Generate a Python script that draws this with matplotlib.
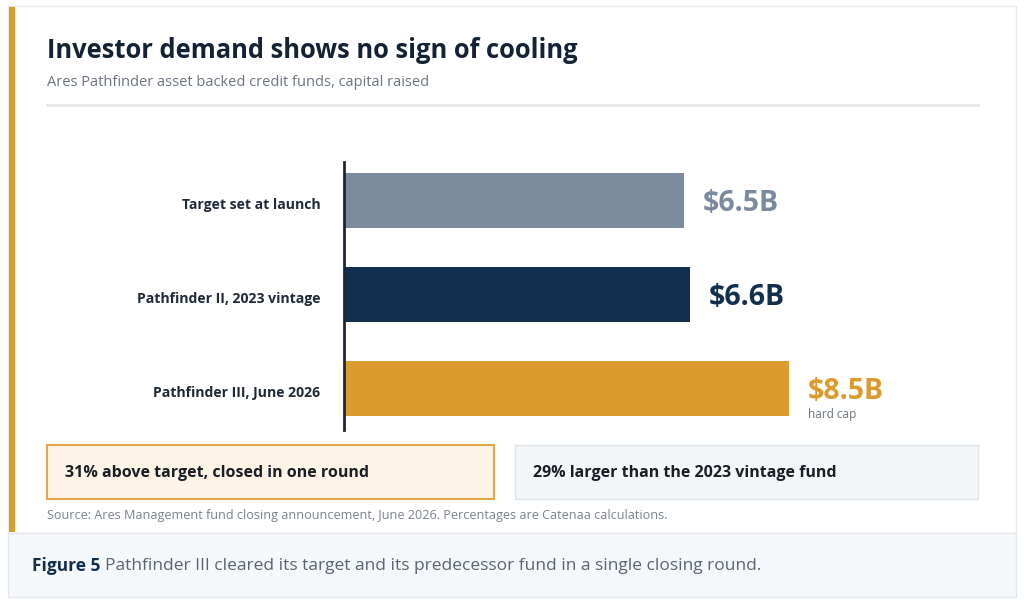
import matplotlib
matplotlib.use("Agg")
import matplotlib.pyplot as plt
from matplotlib.patches import Rectangle
from matplotlib.transforms import ScaledTranslation

W, H = 1024, 603
plt.rcParams["font.family"] = ["Open Sans", "DejaVu Sans"]

categories = ["Target set at launch", "Pathfinder II, 2023 vintage", "Pathfinder III, June 2026"]
values = [6.5, 6.6, 8.5]
value_labels = ["$6.5B", "$6.6B", "$8.5B"]
bar_colors = ["#7b8b9d", "#12304d", "#dc9b2f"]
callouts = ["31% above target, closed in one round", "29% larger than the 2023 vintage fund"]

NAVY = "#142235"
GRAY = "#6b7480"

fig = plt.figure(figsize=(W / 100, H / 100), dpi=100)
fig.patch.set_facecolor("white")


def fx(x):
    return x / W


def fy(y):
    return 1 - y / H


def rect(x0, y0, x1, y1, **kw):
    fig.patches.append(Rectangle((fx(x0), fy(y1)), (x1 - x0) / W, (y1 - y0) / H,
                                 transform=fig.transFigure, figure=fig, zorder=0, **kw))


# card + caption panel
rect(8, 6, 1016, 533, facecolor="white", edgecolor="#e6e9ec", lw=1)
rect(8, 533, 1016, 597, facecolor="#f5f8fa", edgecolor="#e3e7eb", lw=1)
rect(9, 7, 15, 532, facecolor="#dc9b2f", edgecolor="none")

# header
fig.text(fx(47), fy(50), "Investor demand shows no sign of cooling", fontsize=18.4,
         fontweight="bold", color=NAVY, va="center")
fig.text(fx(47), fy(83), "Ares Pathfinder asset backed credit funds, capital raised", fontsize=10.5,
         color=GRAY, va="center")
fig.add_artist(plt.Line2D([fx(47), fx(978)], [fy(105), fy(105)], color="#e4e7ea", lw=2,
                          transform=fig.transFigure))

# bar chart
ppu = 52.35  # pixels per $B
ax = fig.add_axes([fx(344), fy(430), 10 * ppu / W, (430 - 162) / H], zorder=3)
ypos = list(range(len(categories)))
ax.barh(ypos, values, height=55 / 94, color=bar_colors)
ax.set_xlim(0, 10)
ax.set_ylim(2 + 41.5 / 94, -38.5 / 94)
for s in ["top", "right", "bottom"]:
    ax.spines[s].set_visible(False)
ax.spines["left"].set_color("#1c2733")
ax.spines["left"].set_linewidth(2)
ax.set_xticks([])
ax.set_yticks(ypos)
ax.set_yticklabels(categories, fontsize=10.1, fontweight="bold", color="#1f2937")
ax.tick_params(axis="y", length=0, pad=17)
ax.patch.set_alpha(0)
shift = ScaledTranslation(0, -3 / 100, fig.dpi_scale_trans)
for lbl in ax.get_yticklabels():
    lbl.set_transform(lbl.get_transform() + shift)

for i, (v, lab, c) in enumerate(zip(values, value_labels, bar_colors)):
    ax.annotate(lab, (v, i), xytext=(13.5, -2), textcoords="offset points",
                fontsize=20.5, fontweight="bold", color=c, va="center", ha="left")
ax.annotate("hard cap", (values[2], 2), xytext=(13.5, -19), textcoords="offset points",
            fontsize=8.5, color=GRAY, va="center", ha="left")

# callout boxes
rect(47, 445, 494, 499, facecolor="#fdf3e7", edgecolor="#e2a848", lw=1.5)
rect(515, 445, 978, 499, facecolor="#f3f6f9", edgecolor="#dfe4e9", lw=1)
fig.text(fx(65), fy(473), callouts[0], fontsize=11.5, fontweight="bold", color="#1a1f26", va="center")
fig.text(fx(533), fy(473), callouts[1], fontsize=11.5, fontweight="bold", color="#1a1f26", va="center")

fig.text(fx(47), fy(515), "Source: Ares Management fund closing announcement, June 2026. "
         "Percentages are Catenaa calculations.", fontsize=9.1, color="#7a828c", va="center")

# caption
t = fig.text(fx(32), fy(566), "Figure 5", fontsize=12.5, fontweight="bold", color="#12304d", va="center")
fig.canvas.draw()
bb = t.get_window_extent()
fig.text(bb.x1 / W + 5 / W, fy(566),
         "Pathfinder III cleared its target and its predecessor fund in a single closing round.",
         fontsize=12.5, color="#5b6470", va="center")

fig.savefig("out.png", dpi=100)
